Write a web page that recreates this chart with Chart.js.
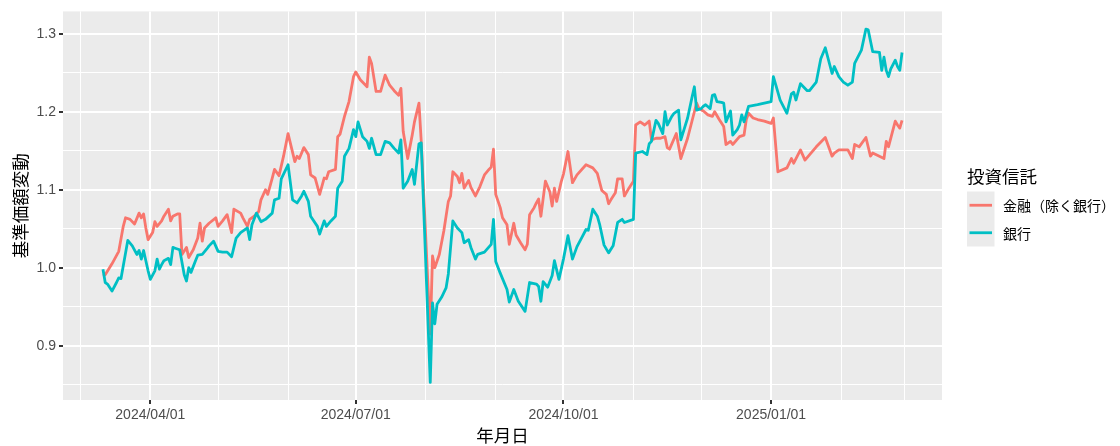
<!DOCTYPE html>
<html>
<head>
<meta charset="utf-8">
<script src="https://cdn.jsdelivr.net/npm/chart.js@4.4.1/dist/chart.umd.min.js"></script>
<style>
html,body{margin:0;padding:0;background:#fff;}
canvas{display:block;}
</style>
</head>
<body>
<canvas id="c" width="1120" height="446"></canvas>
<script>
const seriesNames = ['金融（除く銀行）', '銀行'];
const legendTitle = '投資信託';
const xTitle = '年月日';
const yTitle = '基準価額変動';

const finDates = ['2024-03-11','2024-03-12','2024-03-15','2024-03-18','2024-03-20','2024-03-21','2024-03-23','2024-03-25','2024-03-27','2024-03-28','2024-03-29','2024-03-30','2024-03-31','2024-04-02','2024-04-03','2024-04-04','2024-04-06','2024-04-07','2024-04-09','2024-04-10','2024-04-11','2024-04-13','2024-04-14','2024-04-15','2024-04-17','2024-04-18','2024-04-20','2024-04-22','2024-04-23','2024-04-24','2024-04-25','2024-04-27','2024-04-30','2024-05-01','2024-05-03','2024-05-05','2024-05-07','2024-05-08','2024-05-11','2024-05-12','2024-05-14','2024-05-15','2024-05-17','2024-05-19','2024-05-20','2024-05-22','2024-05-23','2024-05-25','2024-05-26','2024-05-28','2024-05-30','2024-06-01','2024-06-04','2024-06-05','2024-06-06','2024-06-08','2024-06-10','2024-06-11','2024-06-13','2024-06-15','2024-06-17','2024-06-18','2024-06-19','2024-06-22','2024-06-23','2024-06-24','2024-06-26','2024-06-28','2024-06-30','2024-07-01','2024-07-03','2024-07-06','2024-07-07','2024-07-08','2024-07-10','2024-07-12','2024-07-14','2024-07-16','2024-07-18','2024-07-20','2024-07-21','2024-07-22','2024-07-24','2024-07-26','2024-07-27','2024-07-29','2024-07-30','2024-08-03','2024-08-04','2024-08-05','2024-08-07','2024-08-09','2024-08-11','2024-08-12','2024-08-13','2024-08-15','2024-08-16','2024-08-17','2024-08-18','2024-08-20','2024-08-21','2024-08-23','2024-08-25','2024-08-27','2024-08-29','2024-08-30','2024-08-31','2024-09-01','2024-09-03','2024-09-04','2024-09-06','2024-09-07','2024-09-09','2024-09-10','2024-09-12','2024-09-14','2024-09-15','2024-09-16','2024-09-18','2024-09-19','2024-09-20','2024-09-21','2024-09-23','2024-09-25','2024-09-26','2024-09-27','2024-09-28','2024-09-30','2024-10-01','2024-10-03','2024-10-05','2024-10-07','2024-10-11','2024-10-14','2024-10-16','2024-10-18','2024-10-20','2024-10-21','2024-10-22','2024-10-24','2024-10-25','2024-10-27','2024-10-28','2024-10-30','2024-11-01','2024-11-02','2024-11-04','2024-11-06','2024-11-08','2024-11-09','2024-11-11','2024-11-13','2024-11-15','2024-11-16','2024-11-17','2024-11-20','2024-11-22','2024-11-25','2024-11-28','2024-11-29','2024-11-30','2024-12-02','2024-12-04','2024-12-06','2024-12-07','2024-12-09','2024-12-11','2024-12-12','2024-12-14','2024-12-15','2024-12-18','2024-12-20','2024-12-21','2024-12-22','2024-12-24','2024-12-26','2024-12-29','2025-01-01','2025-01-02','2025-01-04','2025-01-08','2025-01-10','2025-01-11','2025-01-14','2025-01-16','2025-01-21','2025-01-25','2025-01-28','2025-01-29','2025-01-31','2025-02-04','2025-02-06','2025-02-07','2025-02-09','2025-02-12','2025-02-14','2025-02-15','2025-02-20','2025-02-21','2025-02-22','2025-02-25','2025-02-26','2025-02-27','2025-02-28'];
const finValues = [0.992,0.991,1.005,1.021,1.053,1.064,1.062,1.056,1.070,1.064,1.069,1.051,1.036,1.045,1.059,1.053,1.060,1.066,1.075,1.060,1.066,1.069,1.069,1.017,1.026,1.013,1.023,1.038,1.057,1.034,1.051,1.057,1.064,1.053,1.060,1.068,1.045,1.075,1.070,1.064,1.053,1.062,1.066,1.072,1.087,1.100,1.094,1.115,1.126,1.118,1.143,1.172,1.136,1.143,1.140,1.154,1.145,1.119,1.115,1.094,1.115,1.114,1.123,1.126,1.168,1.171,1.194,1.213,1.245,1.251,1.241,1.232,1.270,1.262,1.226,1.226,1.247,1.234,1.227,1.221,1.230,1.175,1.140,1.170,1.187,1.211,1.162,0.915,1.015,1.000,1.017,1.047,1.085,1.092,1.123,1.117,1.109,1.121,1.102,1.112,1.103,1.092,1.104,1.119,1.126,1.129,1.152,1.094,1.077,1.064,1.055,1.030,1.057,1.042,1.032,1.023,1.030,1.068,1.077,1.083,1.088,1.066,1.111,1.097,1.079,1.102,1.085,1.110,1.120,1.149,1.109,1.119,1.132,1.128,1.121,1.099,1.094,1.082,1.087,1.096,1.114,1.114,1.092,1.102,1.111,1.183,1.187,1.183,1.188,1.164,1.166,1.166,1.168,1.154,1.152,1.172,1.140,1.166,1.200,1.211,1.204,1.201,1.196,1.194,1.200,1.190,1.181,1.158,1.162,1.158,1.168,1.170,1.190,1.198,1.192,1.190,1.188,1.185,1.192,1.123,1.128,1.140,1.134,1.151,1.138,1.155,1.167,1.143,1.147,1.151,1.151,1.140,1.158,1.155,1.167,1.143,1.147,1.140,1.162,1.155,1.188,1.183,1.179,1.189];

const bankDates = ['2024-03-11','2024-03-12','2024-03-13','2024-03-15','2024-03-17','2024-03-18','2024-03-19','2024-03-22','2024-03-24','2024-03-26','2024-03-27','2024-03-28','2024-03-29','2024-03-30','2024-03-31','2024-04-01','2024-04-03','2024-04-04','2024-04-05','2024-04-06','2024-04-07','2024-04-09','2024-04-10','2024-04-11','2024-04-12','2024-04-14','2024-04-16','2024-04-17','2024-04-18','2024-04-19','2024-04-21','2024-04-22','2024-04-24','2024-04-26','2024-04-27','2024-04-29','2024-05-01','2024-05-03','2024-05-05','2024-05-07','2024-05-08','2024-05-09','2024-05-11','2024-05-14','2024-05-15','2024-05-16','2024-05-18','2024-05-20','2024-05-22','2024-05-25','2024-05-26','2024-05-28','2024-05-29','2024-06-01','2024-06-03','2024-06-05','2024-06-07','2024-06-08','2024-06-10','2024-06-11','2024-06-14','2024-06-15','2024-06-17','2024-06-18','2024-06-20','2024-06-22','2024-06-23','2024-06-25','2024-06-26','2024-06-28','2024-06-30','2024-07-01','2024-07-02','2024-07-04','2024-07-06','2024-07-07','2024-07-08','2024-07-10','2024-07-12','2024-07-14','2024-07-16','2024-07-18','2024-07-20','2024-07-21','2024-07-22','2024-07-24','2024-07-26','2024-07-27','2024-07-29','2024-07-30','2024-08-03','2024-08-04','2024-08-05','2024-08-06','2024-08-08','2024-08-10','2024-08-11','2024-08-13','2024-08-15','2024-08-17','2024-08-18','2024-08-20','2024-08-21','2024-08-23','2024-08-24','2024-08-26','2024-08-27','2024-08-30','2024-08-31','2024-09-01','2024-09-03','2024-09-06','2024-09-07','2024-09-09','2024-09-11','2024-09-14','2024-09-16','2024-09-19','2024-09-20','2024-09-21','2024-09-22','2024-09-24','2024-09-26','2024-09-27','2024-09-29','2024-10-01','2024-10-03','2024-10-05','2024-10-07','2024-10-09','2024-10-11','2024-10-12','2024-10-14','2024-10-16','2024-10-17','2024-10-19','2024-10-21','2024-10-23','2024-10-25','2024-10-27','2024-10-28','2024-11-01','2024-11-02','2024-11-05','2024-11-07','2024-11-08','2024-11-09','2024-11-11','2024-11-12','2024-11-14','2024-11-15','2024-11-16','2024-11-18','2024-11-19','2024-11-21','2024-11-22','2024-11-25','2024-11-27','2024-11-28','2024-11-29','2024-12-01','2024-12-02','2024-12-03','2024-12-05','2024-12-06','2024-12-07','2024-12-08','2024-12-10','2024-12-11','2024-12-12','2024-12-14','2024-12-15','2024-12-17','2024-12-18','2024-12-19','2024-12-20','2024-12-22','2024-12-26','2024-12-29','2025-01-01','2025-01-02','2025-01-03','2025-01-05','2025-01-08','2025-01-10','2025-01-11','2025-01-12','2025-01-14','2025-01-17','2025-01-18','2025-01-21','2025-01-23','2025-01-25','2025-01-28','2025-01-29','2025-01-31','2025-02-02','2025-02-04','2025-02-06','2025-02-07','2025-02-10','2025-02-12','2025-02-13','2025-02-15','2025-02-18','2025-02-19','2025-02-20','2025-02-21','2025-02-22','2025-02-23','2025-02-25','2025-02-26','2025-02-27','2025-02-28'];
const bankValues = [0.998,0.981,0.979,0.970,0.981,0.987,0.986,1.035,1.028,1.017,1.022,1.011,1.022,1.009,0.996,0.985,0.996,1.011,0.998,1.004,1.009,1.012,1.004,1.026,1.025,1.023,0.991,0.983,1.000,0.994,1.009,1.016,1.017,1.024,1.028,1.034,1.021,1.020,1.020,1.014,1.026,1.038,1.045,1.051,1.036,1.055,1.070,1.059,1.062,1.070,1.087,1.089,1.114,1.132,1.087,1.083,1.092,1.098,1.085,1.066,1.053,1.043,1.060,1.053,1.060,1.066,1.102,1.111,1.143,1.153,1.177,1.168,1.187,1.168,1.162,1.153,1.166,1.145,1.145,1.162,1.160,1.153,1.147,1.164,1.102,1.111,1.126,1.107,1.159,1.160,0.853,0.955,0.928,0.953,0.962,0.974,0.992,1.060,1.051,1.045,1.032,1.036,1.026,1.011,1.017,1.019,1.020,1.030,1.062,1.008,0.993,0.972,0.956,0.972,0.957,0.944,0.981,0.979,0.976,0.957,0.982,0.975,0.990,1.009,0.985,1.011,1.041,1.011,1.027,1.038,1.049,1.048,1.075,1.066,1.056,1.029,1.019,1.028,1.058,1.062,1.058,1.062,1.147,1.149,1.145,1.159,1.162,1.189,1.185,1.172,1.200,1.183,1.194,1.198,1.202,1.164,1.192,1.219,1.232,1.202,1.204,1.207,1.209,1.204,1.221,1.222,1.213,1.212,1.211,1.187,1.201,1.170,1.177,1.183,1.196,1.187,1.207,1.209,1.211,1.213,1.245,1.235,1.215,1.198,1.223,1.225,1.215,1.236,1.227,1.227,1.238,1.268,1.282,1.249,1.258,1.245,1.238,1.234,1.238,1.262,1.279,1.306,1.305,1.277,1.276,1.253,1.270,1.253,1.245,1.255,1.266,1.258,1.253,1.276];

const xTickLabels = ['2024/04/01','2024/07/01','2024/10/01','2025/01/01'];
const xMinorBreaks = ['2024/03/01','2024/05/01','2024/06/01','2024/08/01','2024/09/01','2024/11/01','2024/12/01','2025/02/01','2025/03/01'];
const yTickLabels = ['0.9','1.0','1.1','1.2','1.3'];
const yMinorBreaks = [0.85, 0.95, 1.05, 1.15, 1.25];

const seriesColors = ['#F8766D', '#00BFC4'];

function toDay(s) {
  const p = s.split(/[-\/]/).map(Number);
  return Date.UTC(p[0], p[1] - 1, p[2]) / 86400000;
}
const finData = finDates.map((d, i) => ({x: toDay(d), y: finValues[i]}));
const bankData = bankDates.map((d, i) => ({x: toDay(d), y: bankValues[i]}));

const allX = finData.concat(bankData).map(p => p.x);
const allY = finValues.concat(bankValues);
const xLo = Math.min(...allX), xHi = Math.max(...allX);
const yLo = Math.min(...allY), yHi = Math.max(...allY);
const xPad = (xHi - xLo) * 0.05, yPad = (yHi - yLo) * 0.05;

const xMajor = xTickLabels.map(toDay);
const xMinor = xMinorBreaks.map(toDay);
const xTicksAll = xMajor.concat(xMinor).sort((a, b) => a - b);
const yMajor = yTickLabels.map(Number);
const yTicksAll = yMajor.concat(yMinorBreaks).sort((a, b) => a - b);

const isXMajor = v => xMajor.some(m => Math.abs(m - v) < 1e-6);
const isYMajor = v => yMajor.some(m => Math.abs(m - v) < 1e-6);

const panelBg = {
  id: 'panelBg',
  beforeDraw(chart) {
    const a = chart.chartArea, ctx = chart.ctx;
    ctx.save();
    ctx.fillStyle = '#EBEBEB';
    ctx.fillRect(a.left, a.top, a.right - a.left, a.bottom - a.top);
    ctx.restore();
  }
};

const ggLegend = {
  id: 'ggLegend',
  afterDraw(chart) {
    const ctx = chart.ctx;
    const x0 = 967, keySize = 27.5, top = 191.5;
    ctx.save();
    ctx.textBaseline = 'middle';
    ctx.textAlign = 'left';
    ctx.fillStyle = '#000';
    ctx.font = '17.5px "Noto Sans CJK JP"';
    ctx.fillText(legendTitle, x0, 176);
    chart.data.datasets.forEach((ds, i) => {
      const y0 = top + i * keySize;
      ctx.fillStyle = '#EBEBEB';
      ctx.fillRect(x0, y0, keySize, keySize);
      ctx.strokeStyle = ds.borderColor;
      ctx.lineWidth = ds.borderWidth;
      ctx.beginPath();
      ctx.moveTo(x0 + 2.5, y0 + keySize / 2);
      ctx.lineTo(x0 + keySize - 2.5, y0 + keySize / 2);
      ctx.stroke();
      ctx.fillStyle = '#000';
      ctx.font = '14px "Noto Sans CJK JP"';
      ctx.fillText(ds.label, 1003, y0 + keySize / 2 + 0.5);
    });
    ctx.restore();
  }
};

new Chart(document.getElementById('c'), {
  type: 'line',
  data: {
    datasets: [
      {label: seriesNames[0], data: finData, borderColor: seriesColors[0], backgroundColor: seriesColors[0], borderWidth: 2.8, pointRadius: 0, tension: 0, borderJoinStyle: 'round', order: 1},
      {label: seriesNames[1], data: bankData, borderColor: seriesColors[1], backgroundColor: seriesColors[1], borderWidth: 2.8, pointRadius: 0, tension: 0, borderJoinStyle: 'round', order: 0}
    ]
  },
  options: {
    responsive: false,
    animation: false,
    devicePixelRatio: 1,
    events: [],
    layout: {padding: {left: 0, top: 10, right: 178, bottom: 0}},
    plugins: {legend: {display: false}, tooltip: {enabled: false}, title: {display: false}},
    scales: {
      x: {
        type: 'linear',
        min: xLo - xPad,
        max: xHi + xPad,
        afterFit: s => { s.height = 46; },
        afterBuildTicks: s => { s.ticks = xTicksAll.map(v => ({value: v})); },
        border: {display: false},
        grid: {
          color: '#FFFFFF',
          lineWidth: c => isXMajor(c.tick.value) ? 2 : 1,
          tickColor: c => isXMajor(c.tick.value) ? '#333333' : 'rgba(0,0,0,0)',
          tickWidth: 2,
          tickLength: 4,
          drawTicks: true
        },
        ticks: {
          autoSkip: false,
          maxRotation: 0,
          minRotation: 0,
          padding: 3,
          color: '#4D4D4D',
          font: {family: '"Liberation Sans", Arial, sans-serif', size: 14},
          callback: v => { const i = xMajor.findIndex(m => Math.abs(m - v) < 1e-6); return i >= 0 ? xTickLabels[i] : ''; }
        },
        title: {
          display: true, text: xTitle, color: '#000',
          font: {family: '"Noto Sans CJK JP"', size: 17.5},
          padding: {top: 0, bottom: 0.5}
        }
      },
      y: {
        type: 'linear',
        min: yLo - yPad,
        max: yHi + yPad,
        afterFit: s => { s.width = 63; },
        afterBuildTicks: s => { s.ticks = yTicksAll.map(v => ({value: v})); },
        border: {display: false},
        grid: {
          color: '#FFFFFF',
          lineWidth: c => isYMajor(c.tick.value) ? 2 : 1,
          tickColor: c => isYMajor(c.tick.value) ? '#333333' : 'rgba(0,0,0,0)',
          tickWidth: 2,
          tickLength: 4,
          drawTicks: true
        },
        ticks: {
          autoSkip: false,
          padding: 3,
          color: '#4D4D4D',
          font: {family: '"Liberation Sans", Arial, sans-serif', size: 14},
          callback: v => { const i = yMajor.findIndex(m => Math.abs(m - v) < 1e-6); return i >= 0 ? yTickLabels[i] : ''; }
        },
        title: {
          display: true, text: yTitle, color: '#000',
          font: {family: '"Noto Sans CJK JP"', size: 17.5},
          padding: {top: 10, bottom: 0}
        }
      }
    }
  },
  plugins: [panelBg, ggLegend]
});
</script>
</body>
</html>
